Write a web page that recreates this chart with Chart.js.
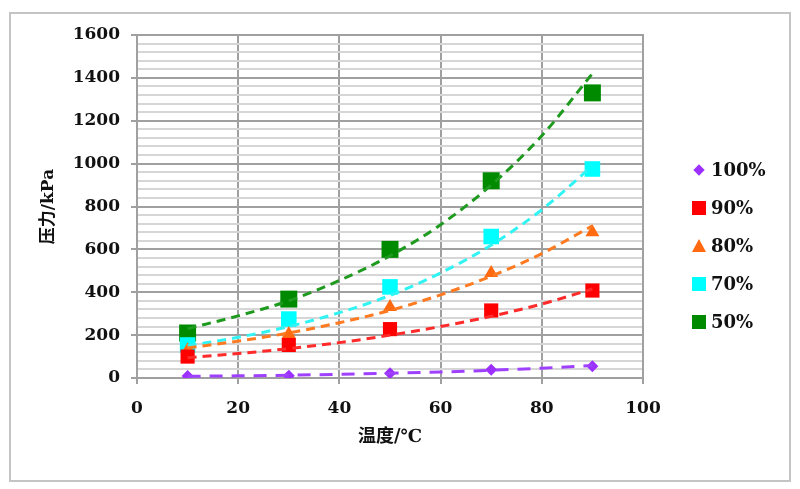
<!DOCTYPE html>
<html>
<head>
<meta charset="utf-8">
<script src="https://cdn.jsdelivr.net/npm/chart.js@4"></script>
<style>
    html, body { margin: 0; padding: 0; background: #fff; }
    #wrap { position: relative; width: 800px; height: 489px; }
    #frame {
        position: absolute; left: 9px; top: 12px; width: 778px; height: 466px;
        border: 2px solid #c4c4c4; pointer-events: none;
    }
    #legend {
        position: absolute; left: 692px; top: 159px;
        font: bold 18px "DejaVu Serif", "Liberation Serif", serif; color: #111;
    }
    .item { height: 38px; line-height: 22px; display: flex; align-items: flex-start; }
    .mark { width: 14px; height: 22px; margin-right: 5px; position: relative; }
</style>
</head>
<body>
<div id="wrap">
    <canvas id="chart" width="800" height="489"></canvas>
    <div id="frame"></div>
    <div id="legend"></div>
</div>
<script>
// measured points, temperature (°C) vs pressure (kPa)
const temps = [10, 30, 50, 70, 90];
const p100 = [9, 10, 22, 38, 55];
const p90 = [100, 154, 228, 315, 408];
const p80 = [130, 205, 331, 490, 680];
const p70 = [154, 275, 425, 660, 975];
const p50 = [210, 368, 600, 920, 1330];

// dashed trend lines
const trendTemps = [10, 20, 30, 40, 50, 60, 70, 80, 90];
const t100 = [8, 10, 13, 17, 22, 28, 36, 46, 58];
const t90 = [95, 114, 137, 165, 200, 240, 288, 345, 415];
const t80 = [140, 172, 210, 258, 315, 388, 475, 580, 710];
const t70 = [150, 190, 240, 305, 385, 490, 620, 785, 990];
const t50 = [230, 290, 360, 455, 570, 715, 900, 1130, 1420];

const seriesNames = ['100%', '90%', '80%', '70%', '50%'];
const pointSets = [p100, p90, p80, p70, p50];
const trendSets = [t100, t90, t80, t70, t50];
const markColors = ['#9b30ff', '#ff0000', '#ff6a10', '#00ffff', '#008a00'];
const lineColors = ['#a040ff', '#ff2a2a', '#ff7a20', '#30f4f4', '#1e9a1e'];
const markStyles = ['rectRot', 'rect', 'triangle', 'rect', 'rect'];
const markRadius = [6, 10, 8, 11, 12];
const dashes = [[13, 9], [9, 6], [9, 6], [9, 6], [9, 6]];

const serif = '"DejaVu Serif", "Liberation Serif", "Noto Sans CJK SC", serif';

const datasets = [];
seriesNames.forEach((name, i) => {
    datasets.push({
        label: name + ' trend',
        data: trendTemps.map((t, k) => ({ x: t, y: trendSets[i][k] })),
        showLine: true,
        borderColor: lineColors[i],
        borderWidth: 3,
        borderDash: dashes[i],
        pointRadius: 0,
        cubicInterpolationMode: 'monotone',
        order: 0
    });
    datasets.push({
        label: name,
        data: temps.map((t, k) => ({ x: t, y: pointSets[i][k] })),
        showLine: false,
        pointStyle: markStyles[i],
        pointRadius: markRadius[i],
        backgroundColor: markColors[i],
        borderColor: markColors[i],
        borderWidth: 0,
        order: 1
    });
});

new Chart(document.getElementById('chart'), {
    type: 'scatter',
    data: { datasets },
    options: {
        responsive: false,
        animation: false,
        layout: { padding: { left: 38, right: 157, top: 35, bottom: 41 } },
        plugins: { legend: { display: false }, tooltip: { enabled: false } },
        scales: {
            x: {
                type: 'linear',
                min: 0,
                max: 100,
                ticks: { stepSize: 20, color: '#111', padding: 14, font: { family: serif, size: 17, weight: 'bold' } },
                grid: { color: '#a0a0a0', lineWidth: 2, tickLength: 6, tickColor: '#a0a0a0' },
                border: { display: true, color: '#a0a0a0', width: 2 },
                title: {
                    display: true, text: '温度/℃', color: '#111',
                    padding: { top: 4, bottom: 0 },
                    font: { family: serif, size: 18, weight: 'bold' }
                },
                afterFit: s => { s.height = 70; }
            },
            y: {
                min: 0,
                max: 1600,
                ticks: {
                    stepSize: 40,
                    autoSkip: false,
                    color: '#111',
                    padding: 11,
                    font: { family: serif, size: 17, weight: 'bold' },
                    callback: v => (v % 200 === 0 ? v : '')
                },
                grid: {
                    color: c => (c.tick && c.tick.value % 200 === 0 ? '#a0a0a0' : '#d6d6d6'),
                    tickColor: c => (c.tick && c.tick.value % 200 === 0 ? '#a0a0a0' : 'rgba(0,0,0,0)'),
                    lineWidth: 2,
                    tickLength: 6
                },
                border: { display: true, color: '#a0a0a0', width: 2 },
                title: {
                    display: true, text: '压力/kPa', color: '#111',
                    padding: { top: 0, bottom: 0 },
                    font: { family: serif, size: 17, weight: 'bold' }
                },
                afterFit: s => { s.width = 99; }
            }
        }
    },
    plugins: [{
        // right and top edges of the plot box
        id: 'plotBox',
        afterDraw(chart) {
            const { ctx, chartArea: a } = chart;
            ctx.save();
            ctx.strokeStyle = '#a0a0a0';
            ctx.lineWidth = 2;
            ctx.beginPath();
            ctx.moveTo(a.left, a.top);
            ctx.lineTo(a.right, a.top);
            ctx.lineTo(a.right, a.bottom);
            ctx.stroke();
            ctx.restore();
        }
    }]
});

// legend built from the same series arrays
const legend = document.getElementById('legend');
seriesNames.forEach((name, i) => {
    const item = document.createElement('div');
    item.className = 'item';
    const mark = document.createElement('div');
    mark.className = 'mark';
    const shape = document.createElement('div');
    shape.style.position = 'absolute';
    if (markStyles[i] === 'rectRot') {
        shape.style.cssText += 'left:3px;top:7px;width:8px;height:8px;transform:rotate(45deg);background:' + markColors[i];
    } else if (markStyles[i] === 'triangle') {
        shape.style.cssText += 'left:0;top:4px;width:0;height:0;border-left:7px solid transparent;border-right:7px solid transparent;border-bottom:13px solid ' + markColors[i];
    } else {
        shape.style.cssText += 'left:0;top:4px;width:14px;height:14px;background:' + markColors[i];
    }
    mark.appendChild(shape);
    const text = document.createElement('span');
    text.textContent = name;
    item.appendChild(mark);
    item.appendChild(text);
    legend.appendChild(item);
});
</script>
</body>
</html>
